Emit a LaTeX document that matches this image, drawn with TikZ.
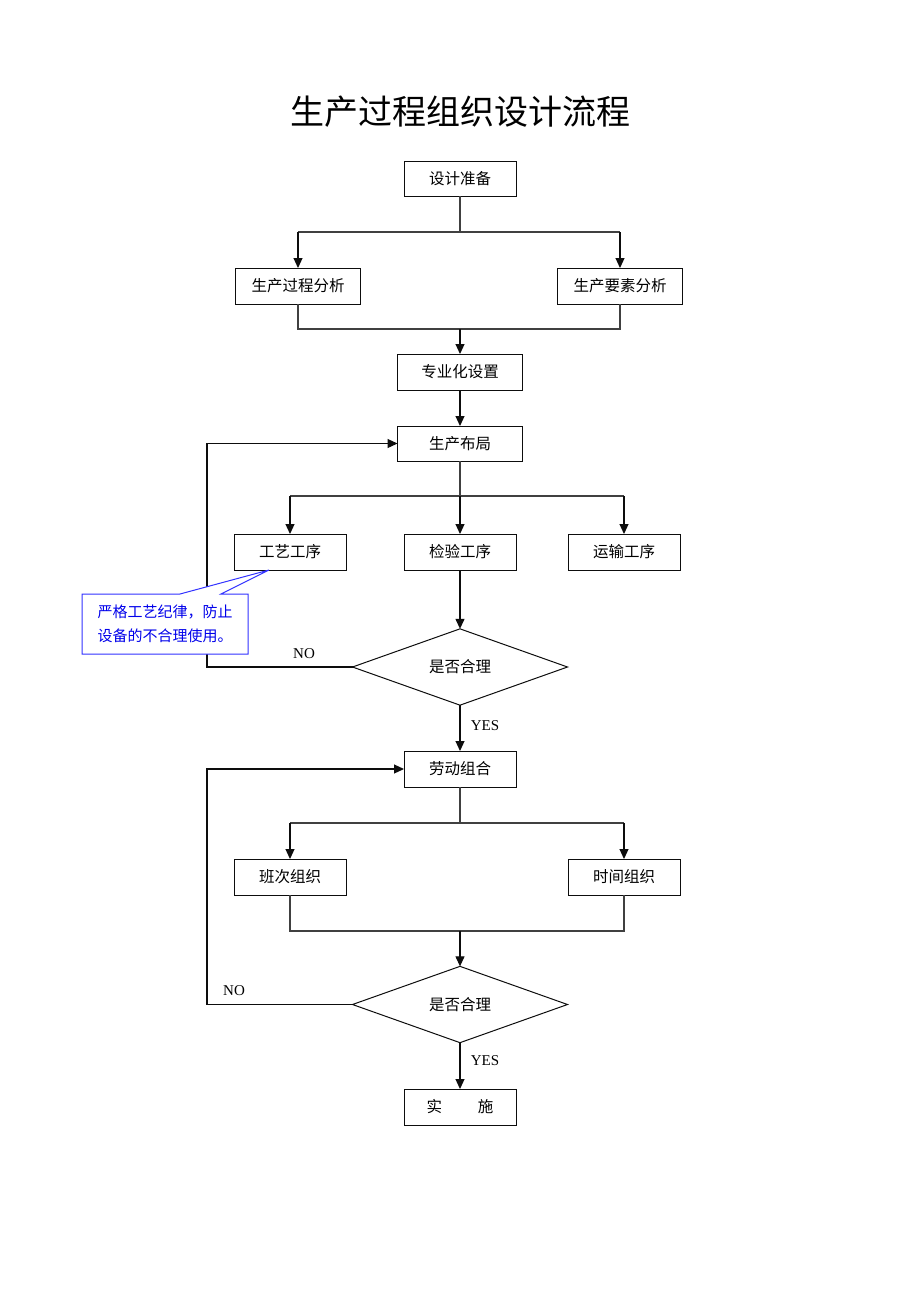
\documentclass[tikz,border=0pt]{standalone}
\usepackage{fontspec}
\setmainfont{Liberation Serif}
\newfontfamily\cjk{Noto Sans CJK SC}
\usetikzlibrary{arrows.meta,shapes.geometric}
\definecolor{FlowInk}{gray}{0.05}
\definecolor{FlowLine}{gray}{0.25}
\definecolor{FlowNote}{RGB}{50,50,255}
\definecolor{FlowNoteText}{RGB}{0,0,235}
\tikzset{
    flow/diagram/.style={
        x=1pt, y=-1pt,
        line join=miter,
        every node/.style={inner sep=0pt, outer sep=0pt}
    },
    flow/box/.style={
        draw=FlowInk, fill=white, line width=1pt,
        minimum width=112pt, minimum height=36pt,
        font=\cjk\fontsize{15.5}{18}\selectfont
    },
    flow/wide/.style={flow/box, minimum width=125pt},
    flow/decision/.style={
        diamond, draw=FlowInk, fill=white, line width=1pt,
        minimum width=215pt, minimum height=71pt,
        font=\cjk\fontsize{15.5}{18}\selectfont
    },
    flow/link/.style={draw=FlowLine, line width=1.1pt},
    flow/arrow/.style={
        draw=FlowInk, line width=1.1pt,
        -{Triangle[length=10pt, width=9pt]}
    },
    flow/tag/.style={font=\fontsize{15}{18}\selectfont},
    flow/callout/.style={draw=FlowNote, fill=white, line width=1pt},
    flow/notetext/.style={
        text=FlowNoteText, align=left,
        font=\cjk\fontsize{15}{24}\selectfont
    }
}

\begin{document}
\begin{tikzpicture}[flow/diagram]
    \useasboundingbox[fill=white] (0,0) rectangle (920,1302);
    \node (title) at (460,112) {\cjk\fontsize{34}{40}\selectfont 生产过程组织设计流程};

    % boxes
    \node[flow/box, minimum height=35pt] (prep) at (460,178.5) {设计准备};
    \node[flow/wide] (proc) at (298,286) {生产过程分析};
    \node[flow/wide] (elem) at (620,286) {生产要素分析};
    \node[flow/wide] (spec) at (460,372) {专业化设置};
    \node[flow/wide, minimum height=35pt] (layout) at (460,443.5) {生产布局};
    \node[flow/box] (craft) at (290,552) {工艺工序};
    \node[flow/box] (inspect) at (460,552) {检验工序};
    \node[flow/box] (haul) at (624,552) {运输工序};
    \node[flow/decision] (check1) at (460,667) {是否合理};
    \node[flow/box] (labour) at (460,769) {劳动组合};
    \node[flow/box] (shift) at (290,877) {班次组织};
    \node[flow/box] (timing) at (624,877) {时间组织};
    \node[flow/decision] (check2) at (460,1004.5) {是否合理};
    \node[flow/box] (launch) at (460,1107) {实\hspace{2.3em}施};

    \coordinate (s1) at (460,232);
    \coordinate (m1) at (460,329);
    \coordinate (s2) at (460,496);
    \coordinate (back1) at (207,667);
    \coordinate (s3) at (460,823);
    \coordinate (m2) at (460,931);
    \coordinate (back2) at (207,1004.5);

    % first stage
    \draw[flow/link] (prep) -- (s1);
    \draw[flow/link] (s1 -| proc) -- (s1 -| elem);
    \draw[flow/arrow] (s1 -| proc) -- (proc);
    \draw[flow/arrow] (s1 -| elem) -- (elem);
    \draw[flow/link] (proc.south) -- (proc.south |- m1) -- (elem.south |- m1) -- (elem.south);
    \draw[flow/arrow] (m1) -- (spec);
    \draw[flow/arrow] (spec) -- (layout);
    \draw[flow/link] (layout) -- (s2);
    \draw[flow/link] (s2 -| craft) -- (s2 -| haul);
    \draw[flow/arrow] (s2 -| craft) -- (craft);
    \draw[flow/arrow] (s2) -- (inspect);
    \draw[flow/arrow] (s2 -| haul) -- (haul);
    \draw[flow/arrow] (inspect) -- (check1);
    \draw[flow/arrow] (check1.west) -- (back1) |- (layout.west);
    \node[flow/tag] (no1) at (304,654) {NO};
    \draw[flow/arrow] (check1) -- (labour);
    \node[flow/tag] (yes1) at (485,726) {YES};

    % second stage
    \draw[flow/link] (labour) -- (s3);
    \draw[flow/link] (s3 -| shift) -- (s3 -| timing);
    \draw[flow/arrow] (s3 -| shift) -- (shift);
    \draw[flow/arrow] (s3 -| timing) -- (timing);
    \draw[flow/link] (shift.south) -- (shift.south |- m2) -- (timing.south |- m2) -- (timing.south);
    \draw[flow/arrow] (m2) -- (check2);
    \draw[flow/arrow] (check2.west) -- (back2) |- (labour.west);
    \node[flow/tag] (no2) at (234,991) {NO};
    \draw[flow/arrow] (check2) -- (launch);
    \node[flow/tag] (yes2) at (485,1061) {YES};

    % note on the craft box
    \coordinate (tip) at (269,570);
    \filldraw[flow/callout] (82,594) -- (180,594) -- (tip) -- (221,594)
        -- (248,594) -- (248,654) -- (82,654) -- cycle;
    \node[flow/notetext] (note) at (165,624) {严格工艺纪律，防止\\设备的不合理使用。};
\end{tikzpicture}
\end{document}
